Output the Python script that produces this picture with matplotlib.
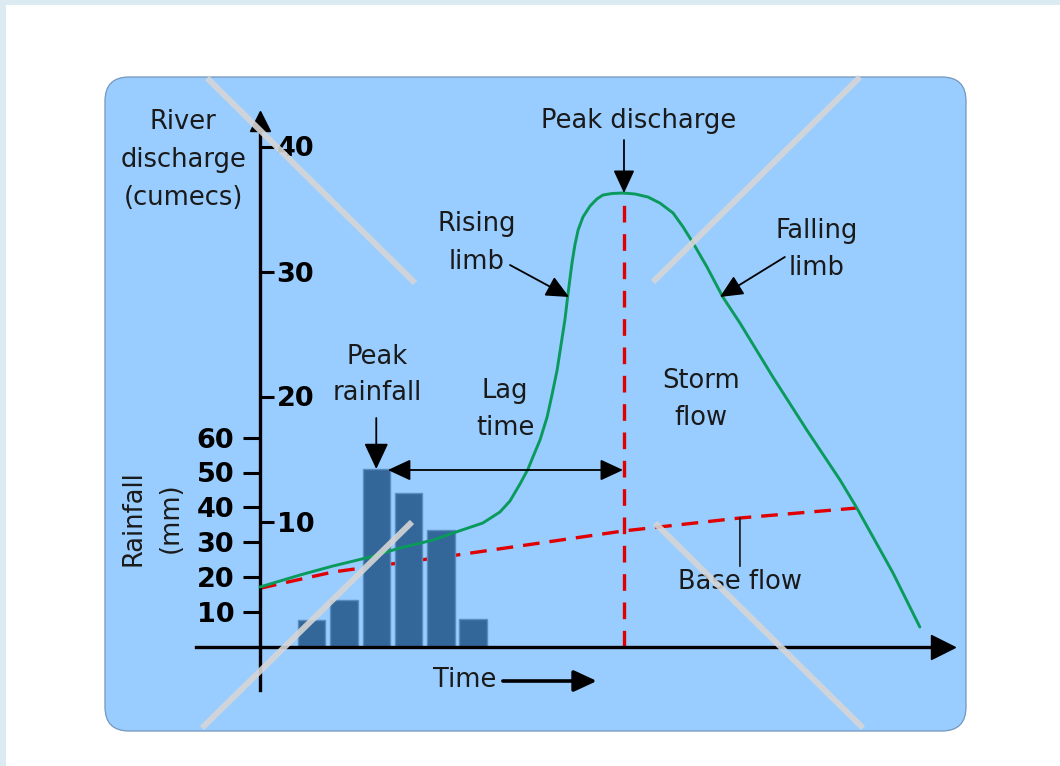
import matplotlib
matplotlib.use('Agg')
import matplotlib.pyplot as plt
from matplotlib.patches import FancyBboxPatch, Rectangle
from matplotlib.lines import Line2D
from matplotlib.transforms import IdentityTransform

plt.rcParams['font.family'] = ['DejaVu Sans']

# ---------------- data ----------------
rain_time = [1.6, 2.6, 3.6, 4.6, 5.6, 6.6]
rain_mm = [7.5, 13.5, 51, 44, 33.5, 8]

flow_time = [0.00, 1.24, 2.26, 3.41, 4.33, 5.36, 5.98, 6.90, 7.43, 7.74, 8.05,
             8.30, 8.45, 8.67, 8.89, 9.04, 9.20, 9.32, 9.44, 9.54, 9.66, 9.75,
             9.85, 10.00, 10.22, 10.43, 10.62, 10.90, 11.24, 11.61, 12.01, 12.38,
             12.79, 13.10, 13.41, 13.84, 14.33, 14.86, 15.88, 16.93, 17.96, 18.48,
             18.98, 19.60, 20.43]
flow_q = [4.76, 5.72, 6.44, 7.16, 7.88, 8.52, 9.08, 9.88, 10.76, 11.64, 13.00,
          14.20, 15.16, 16.52, 18.36, 20.12, 22.12, 24.12, 26.12, 28.28, 30.68, 32.12,
          33.32, 34.36, 35.24, 35.80, 36.12, 36.24, 36.28, 36.20, 35.96, 35.48,
          34.68, 33.56, 32.28, 30.36, 27.96, 25.88, 21.56, 17.32, 13.32, 11.08,
          8.76, 5.88, 1.56]

base_time = [0.00, 2.26, 6.10, 8.89, 11.24, 14.86, 18.48]
base_q = [4.66, 5.96, 7.32, 8.36, 9.24, 10.28, 11.08]

peak_time = 11.27
peak_q = 36.28

discharge_ticks = [10, 20, 30, 40]
rain_ticks = [10, 20, 30, 40, 50, 60]

# ---------------- figure ----------------
W, H, DPI = 1060, 766, 100
fig = plt.figure(figsize=(W / DPI, H / DPI), dpi=DPI, facecolor='white')
px = IdentityTransform()

fig.add_artist(Rectangle((0, 0), 6, H, transform=px, facecolor='#dcebf2',
                         edgecolor='none', zorder=0))
fig.add_artist(Rectangle((0, H - 5), W, 5, transform=px, facecolor='#dcebf2',
                         edgecolor='none', zorder=0))
fig.add_artist(FancyBboxPatch((105, 35), 861, 654,
                              boxstyle='round,pad=0,rounding_size=24',
                              transform=px, facecolor='#99ccff',
                              edgecolor='#7397bd', lw=0.9, zorder=0.5))

ax = fig.add_axes([0, 0, 1, 1])
ax2 = ax.twinx()
ax.set_zorder(2)
ax2.set_zorder(1)
ax.patch.set_visible(False)
ax2.patch.set_visible(False)

XLIM = (-8.05, 24.77)
YLIM = (-9.56, 51.72)
K = 12.5 / 3.48  # mm per cumec on the page

TXT = '#1a1a1a'
FS = 18.5
RED = '#e00000'
GREEN = '#0a9a5c'

# rainfall bars and base flow (behind discharge curve)
ax2.bar(rain_time, rain_mm, width=0.85, color='#336699', edgecolor='#5a8cc0',
        linewidth=1, zorder=2)
ax2.plot(base_time, base_q, transform=ax.transData, color=RED, lw=2.4,
         dashes=(5, 3), zorder=1)

# discharge curve and peak line
ax.vlines(peak_time, 0, peak_q, color=RED, lw=2.4, linestyles=(0, (5, 3.5)), zorder=2)
ax.plot(flow_time, flow_q, color=GREEN, lw=2.1, solid_joinstyle='round',
        solid_capstyle='round', zorder=3)

# axes spines
ax.spines['left'].set_visible(False)
ax.spines['top'].set_visible(False)
ax.spines['right'].set_position(('data', 0))
ax.spines['right'].set_bounds(-3.48, 41.7)
ax.spines['bottom'].set_position(('data', 0))
ax.spines['bottom'].set_bounds(-1.98, 21.0)
for s in ('right', 'bottom'):
    ax.spines[s].set_linewidth(2.4)
    ax.spines[s].set_color('black')
ax.set_xticks([])
ax.yaxis.set_ticks_position('right')
ax.set_yticks(discharge_ticks, [str(v) for v in discharge_ticks])
ax.tick_params(axis='y', direction='out', length=10, width=2.2, pad=2,
               labelsize=19.5, colors='black')
for lab in ax.get_yticklabels():
    lab.set_fontweight('bold')

ax.plot(0, 42.04, marker='^', ms=15, color='black', clip_on=False, zorder=4)
ax.plot(21.15, 0, marker='>', ms=17, color='black', clip_on=False, zorder=4)

for s in ax2.spines.values():
    s.set_visible(False)
ax2.spines['left'].set_position(('data', 0))
ax2.yaxis.set_ticks_position('left')
ax2.set_yticks(rain_ticks, [str(v) for v in rain_ticks])
ax2.tick_params(axis='y', direction='out', length=12.5, width=2.2, pad=6,
                labelsize=19.5, colors='black')
for lab in ax2.get_yticklabels():
    lab.set_fontweight('bold')


def lines(x, ys, texts, **kw):
    for y, t in zip(ys, texts):
        ax.text(x, y, t, ha='center', va='center', fontsize=FS, color=TXT, **kw)


def arrow(x0, y0, x1, y1, hl=1.4, hw=0.65, style='-|>'):
    ax.annotate('', xy=(x1, y1), xytext=(x0, y0),
                arrowprops=dict(arrowstyle=f'{style},head_length={hl},head_width={hw}',
                                mutation_scale=10, lw=1.3, color='black',
                                shrinkA=0, shrinkB=0), zorder=4)


# labels
lines(-2.38, [41.96, 38.92, 35.88], ['River', 'discharge', '(cumecs)'])
lines(11.73, [42.04], ['Peak discharge'])
lines(6.72, [33.8, 30.76], ['Rising', 'limb'])
lines(17.24, [33.24, 30.28], ['Falling', 'limb'])
lines(3.62, [23.16, 20.28], ['Peak', 'rainfall'])
lines(7.59, [20.44, 17.48], ['Lag', 'time'])
lines(13.65, [21.24, 18.28], ['Storm', 'flow'])
lines(6.35, [-2.68], ['Time'])
ax.text(-3.93, 10.28, 'Rainfall', rotation=90, ha='center', va='center',
        fontsize=FS, color=TXT)
ax.text(-2.76, 10.28, '(mm)', rotation=90, ha='center', va='center',
        fontsize=FS, color=TXT)

ax.annotate('Base flow', xy=(base_time[5], base_q[5]), xytext=(base_time[5], 5.16),
            ha='center', va='center', fontsize=FS, color=TXT,
            arrowprops=dict(arrowstyle='-', color='#222222', lw=1.3,
                            shrinkA=0, shrinkB=0))

# arrows
arrow(peak_time, 40.52, peak_time, peak_q)
arrow(rain_time[2], 18.28, rain_time[2], rain_mm[2] / K, hl=1.6, hw=0.75)
arrow(3.96, 14.12, 11.24, 14.12, style='<|-|>')
arrow(7.74, 30.52, 9.57, 27.96)
arrow(16.25, 31.16, 14.24, 27.96)
ax.annotate('', xy=(10.43, -2.76), xytext=(7.52, -2.76),
            arrowprops=dict(arrowstyle='-|>,head_length=1.4,head_width=0.65',
                            mutation_scale=10, lw=2.6, color='black',
                            shrinkA=0, shrinkB=0))

ax.set_xlim(*XLIM)
ax.set_ylim(*YLIM)
ax2.set_ylim(YLIM[0] * K, YLIM[1] * K)

# watermark strokes
for (x0, y0), (x1, y1) in [((207, 78), (415, 283)), ((860, 77), (653, 282)),
                           ((412, 522), (202, 728)), ((655, 523), (863, 728))]:
    fig.add_artist(Line2D([x0, x1], [H - y0, H - y1], transform=px,
                          color='#d6d6d6', lw=4.3, alpha=0.9, zorder=10,
                          solid_capstyle='butt'))

fig.savefig('out.png', dpi=DPI)
